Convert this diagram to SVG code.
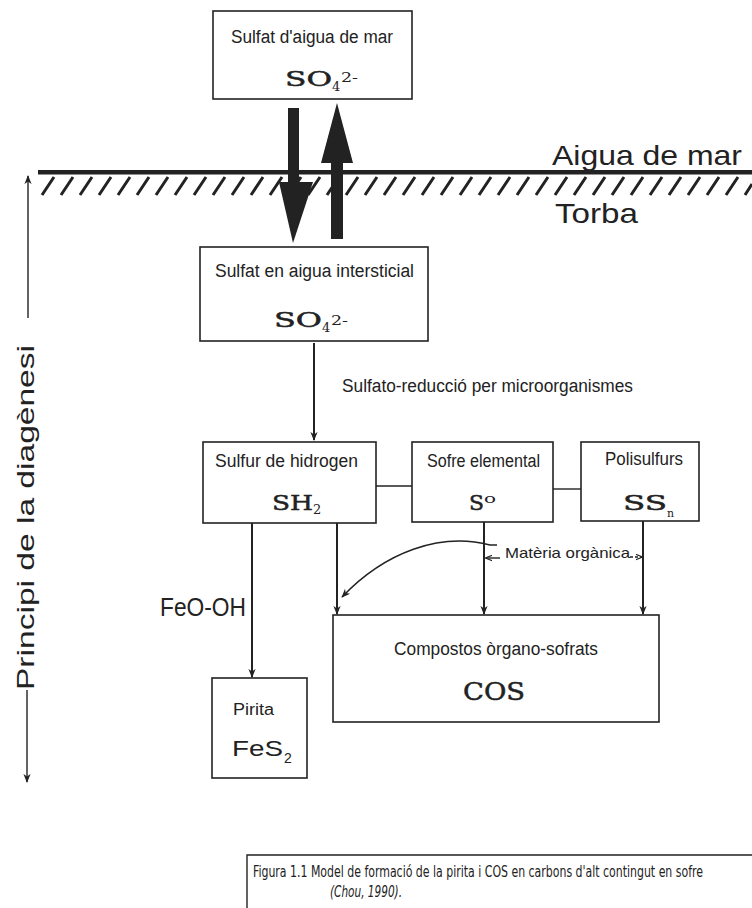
<svg xmlns="http://www.w3.org/2000/svg" width="752" height="908" viewBox="0 0 752 908">
<defs>
<style>
.box{fill:#fff;stroke:#222;stroke-width:1.6}
.lbl{font-family:"Liberation Sans",Arial,sans-serif;font-size:18px;fill:#222}
.frm{font-family:"DejaVu Serif","Liberation Serif",serif;font-size:21px;fill:#222;stroke:#222;stroke-width:0.5}
.sub{font-family:"DejaVu Serif","Liberation Serif",serif;font-size:13px;fill:#222}
.big{font-family:"Liberation Sans",Arial,sans-serif;font-size:28px;fill:#222}
.cap{font-family:"Liberation Sans Narrow","DejaVu Sans Condensed","Liberation Sans",sans-serif;font-stretch:condensed;font-size:16px;fill:#222}
.ln{fill:none;stroke:#222;stroke-width:2}
.thin{fill:none;stroke:#222;stroke-width:1.4}
.hatch{stroke:#222;stroke-width:3}
</style>
<marker id="ah" viewBox="0 0 10 10" refX="9" refY="5" markerWidth="9" markerHeight="9" orient="auto" markerUnits="userSpaceOnUse">
<path d="M0,1 L10,5 L0,9 L3,5 Z" fill="#222"/>
</marker>
<marker id="ahs" viewBox="0 0 10 10" refX="9" refY="5" markerWidth="7" markerHeight="7" orient="auto" markerUnits="userSpaceOnUse">
<path d="M0,1 L10,5 L0,9" fill="none" stroke="#222" stroke-width="1.5"/>
</marker>
</defs>
<rect width="752" height="908" fill="#fff"/>

<g id="ground">
<rect x="38" y="170" width="714" height="4.5" fill="#222"/>
<path class="hatch" d="M42,195 L54,177 M61,195 L73,177 M80,195 L92,177 M99,195 L111,177 M118,195 L130,177 M137,195 L149,177 M156,195 L168,177 M175,195 L187,177 M194,195 L206,177 M213,195 L225,177 M232,195 L244,177 M251,195 L263,177 M270,195 L282,177 M289,195 L301,177 M308,195 L320,177 M327,195 L339,177 M346,195 L358,177 M365,195 L377,177 M384,195 L396,177 M403,195 L415,177 M422,195 L434,177 M441,195 L453,177 M460,195 L472,177 M479,195 L491,177 M498,195 L510,177 M517,195 L529,177 M536,195 L548,177 M555,195 L567,177 M574,195 L586,177 M593,195 L605,177 M612,195 L624,177 M631,195 L643,177 M650,195 L662,177 M669,195 L681,177 M688,195 L700,177 M707,195 L719,177 M726,195 L738,177 M745,195 L752,184"/>
<text class="big" x="552" y="165" textLength="190" lengthAdjust="spacingAndGlyphs">Aigua de mar</text>
<text class="big" x="555" y="223" textLength="83" lengthAdjust="spacingAndGlyphs">Torba</text>
</g>

<g id="exchange">
<rect x="288" y="108" width="11" height="80" fill="#222"/>
<polygon points="279,182 313,182 293,243" fill="#222"/>
<rect x="331" y="160" width="12" height="79" fill="#222"/>
<polygon points="321,163 353,163 337,103" fill="#222"/>
</g>

<g id="n1">
<rect class="box" x="213" y="11" width="199" height="88"/>
<text class="lbl" x="231" y="43" textLength="162" lengthAdjust="spacingAndGlyphs">Sulfat d'aigua de mar</text>
<text class="frm" x="285" y="86" textLength="47" lengthAdjust="spacingAndGlyphs">SO</text>
<text class="sub" x="332" y="91">4</text>
<text class="sub" x="341" y="82" textLength="17" lengthAdjust="spacingAndGlyphs">2-</text>
</g>

<g id="n2">
<rect class="box" x="200" y="247" width="228" height="94"/>
<text class="lbl" x="215" y="277" textLength="199" lengthAdjust="spacingAndGlyphs">Sulfat en aigua intersticial</text>
<text class="frm" x="274" y="327" textLength="48" lengthAdjust="spacingAndGlyphs">SO</text>
<text class="sub" x="322" y="332">4</text>
<text class="sub" x="331" y="325" textLength="17" lengthAdjust="spacingAndGlyphs">2-</text>
</g>

<g id="n3">
<rect class="box" x="203" y="442" width="173" height="81"/>
<text class="lbl" x="215" y="467" textLength="143" lengthAdjust="spacingAndGlyphs">Sulfur de hidrogen</text>
<text class="frm" x="272" y="510" textLength="41" lengthAdjust="spacingAndGlyphs">SH</text>
<text class="sub" x="313" y="514">2</text>
</g>

<g id="n4">
<rect class="box" x="412" y="442" width="141" height="80"/>
<text class="lbl" x="427" y="467" textLength="113" lengthAdjust="spacingAndGlyphs">Sofre elemental</text>
<text class="frm" x="469" y="510" textLength="15" lengthAdjust="spacingAndGlyphs">S</text>
<text class="sub" x="484" y="503" textLength="12" lengthAdjust="spacingAndGlyphs">o</text>
</g>

<g id="n5">
<rect class="box" x="581" y="442" width="118" height="79"/>
<text class="lbl" x="605" y="465" textLength="78" lengthAdjust="spacingAndGlyphs">Polisulfurs</text>
<text class="frm" x="623" y="510" textLength="44" lengthAdjust="spacingAndGlyphs">SS</text>
<text class="sub" x="667" y="517" style="font-size:11px">n</text>
</g>

<g id="n6">
<rect class="box" x="333" y="615" width="326" height="107"/>
<text class="lbl" x="394" y="655" textLength="204" lengthAdjust="spacingAndGlyphs">Compostos òrgano-sofrats</text>
<text class="frm" x="463" y="700" style="font-size:25px" textLength="62" lengthAdjust="spacingAndGlyphs">COS</text>
</g>

<g id="n7">
<rect class="box" x="212" y="678" width="95" height="100"/>
<text class="lbl" x="233" y="715" style="font-size:16px" textLength="41" lengthAdjust="spacingAndGlyphs">Pirita</text>
<text class="big" x="232" y="756" style="font-size:22px" textLength="51" lengthAdjust="spacingAndGlyphs">FeS</text>
<text class="big" x="284" y="763" style="font-size:14px">2</text>
</g>

<g id="connectors">
<line class="ln" x1="314" y1="343" x2="314" y2="440" marker-end="url(#ah)"/>
<text class="lbl" x="342" y="392" textLength="291" lengthAdjust="spacingAndGlyphs">Sulfato-reducció per microorganismes</text>
<line class="thin" x1="376" y1="486" x2="412" y2="486"/>
<line class="thin" x1="553" y1="489" x2="581" y2="489"/>
<line class="ln" x1="252" y1="523" x2="252" y2="677" marker-end="url(#ah)"/>
<line class="ln" x1="337" y1="523" x2="337" y2="614" marker-end="url(#ah)"/>
<line class="ln" x1="484" y1="522" x2="484" y2="614" marker-end="url(#ah)"/>
<line class="ln" x1="643" y1="521" x2="643" y2="614" marker-end="url(#ah)"/>
<path class="thin" d="M497,545 L490,545 C440,532 385,552 342,597" marker-end="url(#ah)"/>
<line class="thin" x1="500" y1="558" x2="486" y2="558" marker-end="url(#ahs)"/>
<line class="thin" x1="630" y1="557" x2="642" y2="557" stroke-dasharray="3,2" marker-end="url(#ahs)"/>
<text class="lbl" x="505" y="558" style="font-size:15px" textLength="125" lengthAdjust="spacingAndGlyphs">Matèria orgànica</text>
<text class="big" x="160" y="616" style="font-size:25px" textLength="86" lengthAdjust="spacingAndGlyphs">FeO-OH</text>
</g>

<g id="axis">
<line class="thin" x1="28" y1="318" x2="28" y2="176" marker-end="url(#ah)"/>
<line class="thin" x1="27" y1="690" x2="27" y2="782" marker-end="url(#ah)"/>
<text class="big" style="font-size:24px" transform="translate(34,690) rotate(-90)" textLength="345" lengthAdjust="spacingAndGlyphs">Principi de la diagènesi</text>
</g>

<g id="caption">
<path class="thin" d="M247,908 L247,855 L752,855"/>
<text class="cap" x="253" y="877" textLength="450" lengthAdjust="spacingAndGlyphs">Figura 1.1 Model de formació de la pirita i COS en carbons d'alt contingut en sofre</text>
<text class="cap" x="330" y="897" font-style="italic" textLength="72" lengthAdjust="spacingAndGlyphs">(Chou, 1990).</text>
</g>
</svg>
